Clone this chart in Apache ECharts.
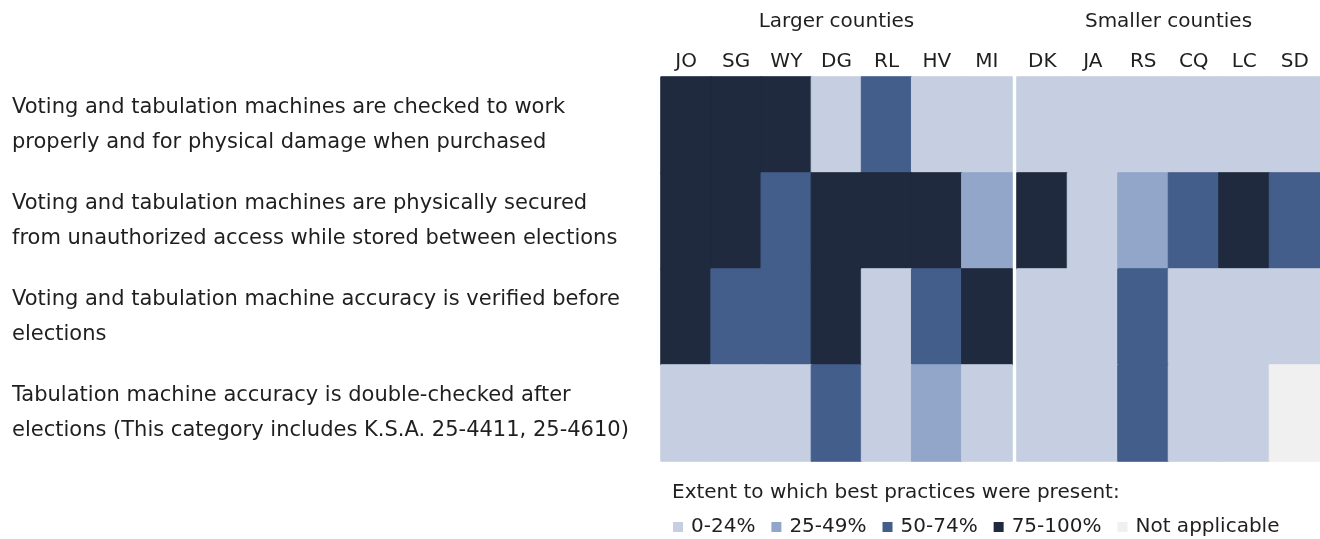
<!DOCTYPE html>
<html>
<head>
<meta charset="utf-8">
<script src="https://cdn.jsdelivr.net/npm/echarts@6/dist/echarts.min.js"></script>
<style>html,body{margin:0;padding:0;background:#fff}#c{width:1320px;height:539px}</style>
</head>
<body>
<div id="c"></div>
<script>
// Data
const largerCounties = ['JO','SG','WY','DG','RL','HV','MI'];
const smallerCounties = ['DK','JA','RS','CQ','LC','SD'];
const practiceLabels = [
  'Voting and tabulation machines are checked to work\nproperly and for physical damage when purchased',
  'Voting and tabulation machines are physically secured\nfrom unauthorized access while stored between elections',
  'Voting and tabulation machine accuracy is verified before\nelections',
  'Tabulation machine accuracy is double-checked after\nelections (This category includes K.S.A. 25-4411, 25-4610)'
];
// level: 0 = 0-24%, 1 = 25-49%, 2 = 50-74%, 3 = 75-100%, 4 = Not applicable
const largerLevels = [
  [3,3,3,0,2,0,0],
  [3,3,2,3,3,3,1],
  [3,2,2,3,0,2,3],
  [0,0,0,2,0,1,0]
];
const smallerLevels = [
  [0,0,0,0,0,0],
  [3,0,1,2,3,2],
  [0,0,2,0,0,0],
  [0,0,2,0,0,4]
];
const levelLabels = ['0-24%','25-49%','50-74%','75-100%','Not applicable'];
const levelColors = ['#c5cfe1','#91a6c9','#435e8a','#1f2a3e','#f0f0f0'];

const FONT = 'DejaVu Sans';
const FS = 20;
const FS_ROW = 21;
const TXT = '#1f1f1f';

function toCells(levels){
  const out = [];
  levels.forEach((row, r) => row.forEach((v, c) => out.push({
    value: [c, r, v],
    itemStyle: {borderColor: levelColors[v], borderWidth: 1}
  })));
  return out;
}

const G1 = {left: 661, top: 77, width: 351, height: 384};
const G2 = {left: 1017, top: 77, width: 303, height: 384};

const chart = echarts.init(document.getElementById('c'), null, {renderer: 'canvas'});
chart.setOption({
  animation: false,
  backgroundColor: '#fff',
  textStyle: {fontFamily: FONT},
  grid: [
    {left: G1.left, top: G1.top, width: G1.width, height: G1.height},
    {left: G2.left, top: G2.top, width: G2.width, height: G2.height}
  ],
  xAxis: [
    {type: 'category', gridIndex: 0, position: 'top', data: largerCounties,
     axisLine: {show: false}, axisTick: {show: false}, splitLine: {show: false},
     axisLabel: {color: TXT, fontSize: FS, fontFamily: FONT, margin: 5}},
    {type: 'category', gridIndex: 1, position: 'top', data: smallerCounties,
     axisLine: {show: false}, axisTick: {show: false}, splitLine: {show: false},
     axisLabel: {color: TXT, fontSize: FS, fontFamily: FONT, margin: 5}}
  ],
  yAxis: [
    {type: 'category', gridIndex: 0, inverse: true, data: practiceLabels,
     axisLine: {show: false}, axisTick: {show: false}, splitLine: {show: false},
     axisLabel: {color: TXT, fontSize: FS_ROW, fontFamily: FONT, align: 'left', margin: G1.left - 12, lineHeight: 35, padding: [9, 0, 0, 0]}},
    {type: 'category', gridIndex: 1, inverse: true, data: practiceLabels,
     axisLine: {show: false}, axisTick: {show: false}, splitLine: {show: false},
     axisLabel: {show: false}}
  ],
  visualMap: {
    type: 'piecewise',
    seriesIndex: [0, 1],
    orient: 'horizontal',
    left: 673,
    top: 517,
    padding: 0,
    itemWidth: 10,
    itemHeight: 10,
    itemGap: 16,
    itemSymbol: 'rect',
    textGap: 8,
    selectedMode: false,
    textStyle: {color: TXT, fontSize: FS, fontFamily: FONT},
    pieces: levelLabels.map((l, i) => ({value: i, label: l, color: levelColors[i]}))
  },
  graphic: [
    {type: 'text', style: {text: 'Larger counties', fill: TXT, font: FS + 'px "' + FONT + '"', align: 'center', verticalAlign: 'middle'},
     x: G1.left + G1.width / 2, y: 22},
    {type: 'text', style: {text: 'Smaller counties', fill: TXT, font: FS + 'px "' + FONT + '"', align: 'center', verticalAlign: 'middle'},
     x: G2.left + G2.width / 2, y: 22},
    {type: 'text', style: {text: 'Extent to which best practices were present:', fill: TXT, font: FS + 'px "' + FONT + '"', align: 'left', verticalAlign: 'middle'},
     x: 672, y: 493}
  ],
  series: [
    {type: 'heatmap', xAxisIndex: 0, yAxisIndex: 0, data: toCells(largerLevels), emphasis: {disabled: true}},
    {type: 'heatmap', xAxisIndex: 1, yAxisIndex: 1, data: toCells(smallerLevels), emphasis: {disabled: true}}
  ]
});
</script>
</body>
</html>
